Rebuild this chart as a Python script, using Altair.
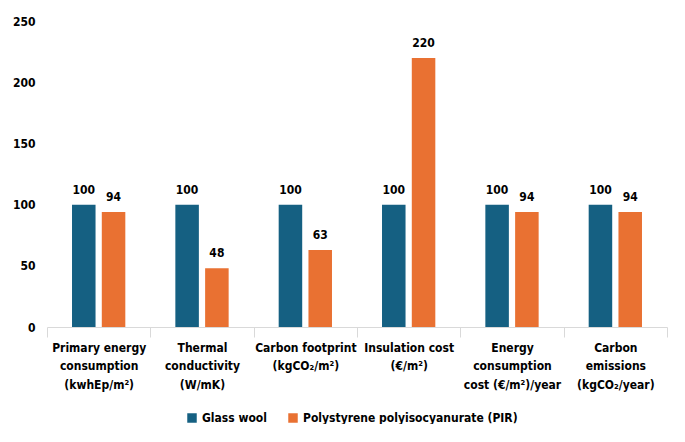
import altair as alt
import pandas as pd

categories = [
    "Primary energy|consumption|(kwhEp/m²)",
    "Thermal|conductivity|(W/mK)",
    "Carbon footprint|(kgCO₂/m²)",
    "Insulation cost|(€/m²)",
    "Energy|consumption|cost (€/m²)/year",
    "Carbon|emissions|(kgCO₂/year)",
]
series = ["Glass wool", "Polystyrene polyisocyanurate (PIR)"]
glass_wool = [100, 100, 100, 100, 100, 100]
pir = [94, 48, 63, 220, 94, 94]
colors = ["#156082", "#E97132"]

rows = []
for c, g, p in zip(categories, glass_wool, pir):
    rows.append({"category": c, "series": series[0], "value": g})
    rows.append({"category": c, "series": series[1], "value": p})
df = pd.DataFrame(rows)

FONT = "DejaVu Sans Condensed, Liberation Sans, sans-serif"
FS = 12

base = alt.Chart(df).encode(
    x=alt.X(
        "category:N",
        sort=categories,
        scale=alt.Scale(paddingInner=0, paddingOuter=0),
        axis=alt.Axis(
            title=None,
            labelAngle=0,
            labelExpr="split(datum.label, '|')",
            labelFont=FONT,
            labelFontSize=FS,
            labelFontWeight="bold",
            labelColor="#000000",
            labelLineHeight=18.5,
            labelPadding=5,
            tickBand="extent",
            tickSize=10,
            tickColor="#d9d9d9",
            domainColor="#d9d9d9",
            labelLimit=200,
        ),
    ),
    xOffset=alt.XOffset(
        "series:N",
        sort=series,
        scale=alt.Scale(paddingInner=0.21, paddingOuter=0.84),
    ),
)

bars = base.mark_bar().encode(
    y=alt.Y(
        "value:Q",
        scale=alt.Scale(domain=[0, 250]),
        axis=alt.Axis(
            title=None,
            values=[0, 50, 100, 150, 200, 250],
            grid=False,
            domain=False,
            ticks=False,
            labelFont=FONT,
            labelFontSize=FS,
            labelFontWeight="bold",
            labelColor="#000000",
            labelPadding=12,
        ),
    ),
    color=alt.Color(
        "series:N",
        sort=series,
        scale=alt.Scale(domain=series, range=colors),
        legend=alt.Legend(
            title=None,
            orient="none",
            direction="horizontal",
            legendX=139,
            legendY=403,
            symbolType="square",
            symbolSize=90,
            symbolStrokeWidth=0,
            labelFont=FONT,
            labelFontSize=FS,
            labelFontWeight="bold",
            labelColor="#000000",
            labelLimit=400,
            columnPadding=20,
            labelOffset=4,
        ),
    ),
)

labels = base.mark_text(
    dy=-15, font=FONT, fontSize=FS, fontWeight="bold", color="#000000"
).encode(
    y="value:Q",
    text="value:Q",
)

chart = (
    (bars + labels)
    .properties(
        width=620,
        height=318,
        padding={"left": 4, "top": 1, "right": 0, "bottom": 0},
        background="white",
    )
    .configure_view(stroke=None)
)

chart.save("out.html", embed_options={"renderer": "svg", "actions": False})
